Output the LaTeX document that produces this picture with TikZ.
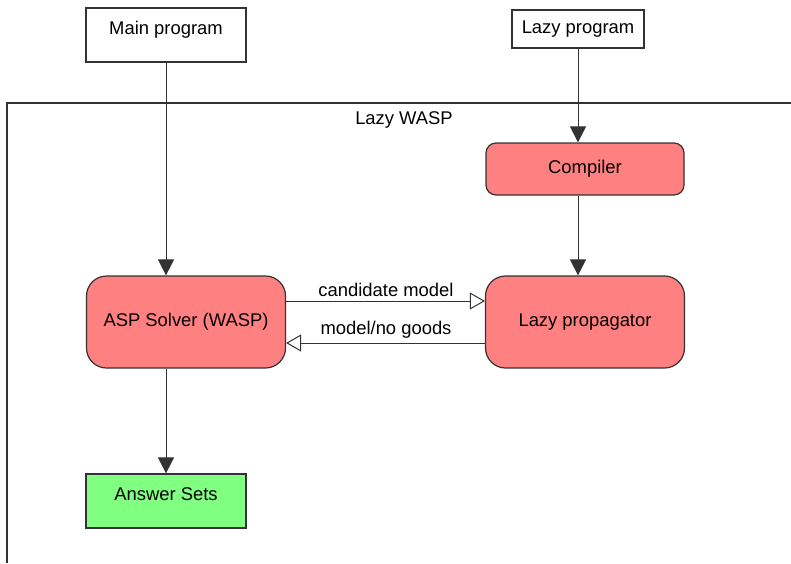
\documentclass[tikz,border=0pt]{standalone}
\usepackage{fontspec}
\setmainfont{Liberation Sans}
\usetikzlibrary{arrows.meta}
\definecolor{solverred}{HTML}{FF8080}
\definecolor{answergreen}{HTML}{80FF80}
\definecolor{edgegray}{HTML}{333333}
\tikzstyle{prog}=[draw=edgegray, fill=white, line width=0.6pt, inner sep=0pt]
\tikzstyle{tall}=[prog, minimum width=80pt, minimum height=27pt, text height=7pt, text depth=8pt]
\tikzstyle{comp}=[draw=edgegray, fill=solverred, rounded corners=5pt, line width=0.6pt, inner sep=0pt]
\tikzstyle{big}=[draw=edgegray, fill=solverred, rounded corners=10pt, line width=0.6pt, inner sep=0pt, minimum width=99.5pt, minimum height=46pt]
\tikzstyle{flow}=[draw=edgegray, line width=0.5pt, -{Triangle[length=8pt, width=8pt]}]
\tikzstyle{msg}=[draw=edgegray, line width=0.5pt, -{Triangle[open, length=7.5pt, width=8.5pt, fill=white]}]

\begin{document}
\begin{tikzpicture}[x=0.5pt, y=-0.5pt, font=\fontsize{9.2}{11}\selectfont]
\useasboundingbox (0,0) rectangle (791,563);

% outer frame, runs off the page
\draw[edgegray, line width=0.6pt] (7,563) -- (7,103) -- (791,103);
\node (wasp) at (404, 120) {Lazy WASP};

\node[tall] (main) at (166, 35) {Main program};
\node[prog, minimum width=66pt, minimum height=19pt] (lazy) at (578, 29) {Lazy program};

\node[comp, minimum width=99pt, minimum height=26pt] (compiler) at (585, 169) {Compiler};
\node[big] (asp) at (186, 322) {ASP Solver (WASP)};
\node[big] (prop) at (585, 322) {Lazy propagator};
\node[tall, fill=answergreen] (ans) at (166, 501) {Answer Sets};

\draw[flow] (main.south) -- (main.south |- asp.north);
\draw[flow] (lazy.south) -- (lazy.south |- compiler.north);
\draw[flow] (lazy.south |- compiler.south) -- (lazy.south |- prop.north);
\draw[flow] (ans.north |- asp.south) -- (ans.north);

\draw[msg] ([yshift=10.5pt]asp.east) -- ([yshift=10.5pt]prop.west);
\draw[msg] ([yshift=-10.5pt]prop.west) -- ([yshift=-10.5pt]asp.east);

\node (cand) at (386, 290) {candidate model};
\node (goods) at (386, 330) {model/no goods};

\end{tikzpicture}
\end{document}
